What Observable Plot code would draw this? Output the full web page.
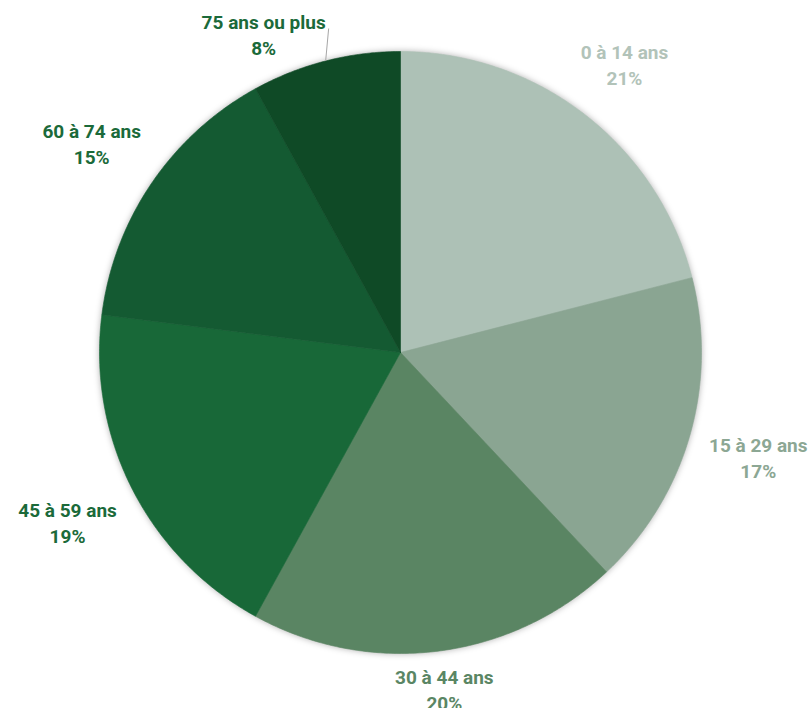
<!DOCTYPE html>
<html><head><meta charset="utf-8">
<script src="https://cdn.jsdelivr.net/npm/d3@7"></script>
<script src="https://cdn.jsdelivr.net/npm/@observablehq/plot@0.6"></script>
<style>body{margin:0;background:#fff;overflow:hidden}</style>
</head><body><div id="chart"></div>
<script>
// ---- data ----
const categories = ["0 à 14 ans","15 à 29 ans","30 à 44 ans","45 à 59 ans","60 à 74 ans","75 ans ou plus"];
const shares = [21,17,20,19,15,8];
const sliceColors = ["#adc1b6","#8aa592","#5a8563","#186838","#145a32","#0f4a26"];
const labelColors = ["#b2c3b9","#8ca794","#5a8664","#1b6a3a","#1b6a3a","#1b6a3a"];

// ---- layout ----
const W = 811, H = 708, cx = 400, cy = 352, R = 301;
const fontSize = 19, lineH = 26, gap = 318, topPad = 7, bottomPad = -6;
const font = `bold ${fontSize}px Roboto`;

const pie = d3.pie().sort(null).value(d => d)(shares);
const step = Math.PI / 360;

const wedges = [];
pie.forEach((p, i) => {
  wedges.push({cat: categories[i], x: 0, y: 0, color: sliceColors[i]});
  const n = Math.max(2, Math.ceil((p.endAngle - p.startAngle) / step));
  for (let k = 0; k <= n; k++) {
    const t = p.startAngle + (p.endAngle - p.startAngle) * k / n;
    wedges.push({cat: categories[i], x: Math.sin(t), y: Math.cos(t), color: sliceColors[i]});
  }
  wedges.push({cat: categories[i], x: 0, y: 0, color: sliceColors[i]});
});

const ctx = document.createElement("canvas").getContext("2d");
ctx.font = font;
const labels = [], leaders = [];
pie.forEach((p, i) => {
  const text = `${categories[i]}\n${shares[i]}%`;
  const w = Math.max(...text.split("\n").map(s => ctx.measureText(s).width));
  const h = 2 * lineH;
  const a = (p.startAngle + p.endAngle) / 2;
  const s = Math.sin(a), c = Math.cos(a);
  const dist = gap + w / 2 * Math.abs(s) + h / 2 * Math.abs(c);
  let px = s * dist, py = c * dist; // pixels, y up
  const top = cy - py - h / 2;
  const bottom = cy - py + h / 2;
  if (top < topPad) {
    // pull label down inside the frame, beside its leader line
    const ex = s * R, ey = c * R;
    py = cy - (topPad + h / 2);
    px = ex + (s < 0 ? -w / 2 : w / 2);
    leaders.push({x1: ex / R, y1: ey / R, x2: (ex + (s < 0 ? 3 : -3)) / R, y2: (py + 5) / R});
  } else if (bottom > H - bottomPad) {
    py = cy - (H - bottomPad - h / 2);
  }
  labels.push({text, x: px / R, y: py / R, color: labelColors[i]});
});

const chart = Plot.plot({
  width: W, height: H,
  margin: 0,
  x: {domain: [-cx / R, (W - cx) / R], axis: null},
  y: {domain: [-(H - cy) / R, cy / R], axis: null},
  color: {type: "identity"},
  style: {fontFamily: "Roboto, sans-serif", background: "#fff"},
  marks: [
    Plot.line(wedges, {x: "x", y: "y", z: "cat", fill: "color", stroke: "color", strokeWidth: 0.6, curve: "linear"}),
    Plot.link(leaders, {x1: "x1", y1: "y1", x2: "x2", y2: "y2", stroke: "#a6a6a6", strokeWidth: 1}),
    Plot.text(labels, {x: "x", y: "y", text: "text", fill: "color", fontSize, fontWeight: "bold", lineHeight: lineH / fontSize, textAnchor: "middle", lineAnchor: "middle"})
  ]
});
document.getElementById("chart").appendChild(chart);
d3.select(chart).select('g[aria-label="line"]').style("filter", "drop-shadow(0px 0px 3px rgba(0,0,0,0.3))");
</script>
</body></html>
